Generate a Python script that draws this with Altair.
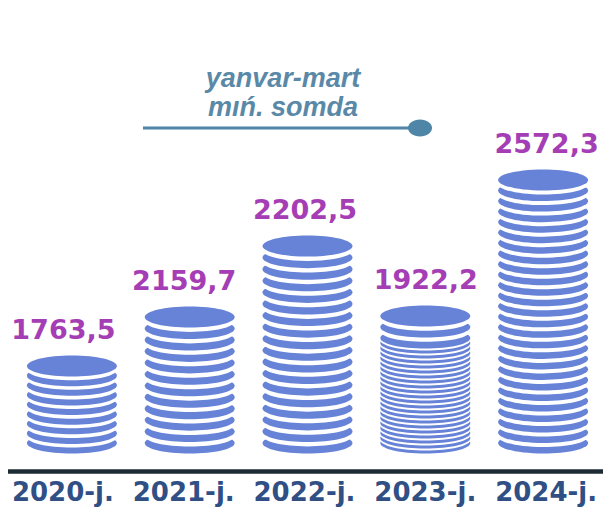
import altair as alt
import numpy as np
import pandas as pd

# ---- data ----
years = ["2020-j.", "2021-j.", "2022-j.", "2023-j.", "2024-j."]
values = [1763.5, 2159.7, 2202.5, 1922.2, 2572.3]
value_labels = ["1763,5", "2159,7", "2202,5", "1922,2", "2572,3"]
# visual height of each coin stack (top coin above bottom coin, drawing units)
stack_heights = [77, 126, 197, 127, 263]
# number of coins in each stack
coin_counts = [9, 12, 18, 24, 26]
# number of thick coins right under the top coin (2023 stack has two)
thick_coins = [0, 0, 0, 2, 0]
note_lines = ["yanvar-mart", "mıń. somda"]

BLUE = "#6783d7"
PURPLE = "#a53db5"
NAVY = "#2f4f85"
STEEL = "#4f85a6"

rows = []
seq = 0
for yr, h, n, k in zip(years, stack_heights, coin_counts, thick_coins):
    if k == 0:
        levels = list(np.linspace(0, h, n))
    else:
        lower = list(np.linspace(0, h - 11 * k - 5, n - 1 - k))
        upper = [h - 11 * j for j in range(k, -1, -1)]
        levels = lower + upper
    for i, lv in enumerate(levels):
        rows.append(dict(year=yr, level=lv, c=BLUE, seq=seq))
        seq += 1
        if i < len(levels) - 1:
            gap = levels[i + 1] - lv
            rows.append(dict(year=yr, level=lv + 0.62 * gap, c="white", seq=seq))
            seq += 1
coins = pd.DataFrame(rows)
labels = pd.DataFrame(dict(year=years, value=values, level=stack_heights, label=value_labels))
one = pd.DataFrame({"k": [0]})


def ellipse(r):
    k = 0.5523
    return (f"M-1,0C-1,{-r*k:.4f},{-k},{-r},0,{-r}C{k},{-r},1,{-r*k:.4f},1,0"
            f"C1,{r*k:.4f},{k},{r},0,{r}C{-k},{r},-1,{r*k:.4f},-1,0Z")


yscale = alt.Scale(domain=[-64, 435], nice=False, zero=False)

stacks = alt.Chart(coins).mark_point(
    shape=ellipse(0.235), filled=True, opacity=1, strokeWidth=0, size=8100
).encode(
    x=alt.X("year:N", sort=years, scale=alt.Scale(type="point", range=[5, 594], padding=0.5), axis=None),
    y=alt.Y("level:Q", scale=yscale, axis=None),
    color=alt.Color("c:N", scale=None),
    order=alt.Order("seq:Q"),
)

vlabels = alt.Chart(labels).mark_text(
    font="DejaVu Sans", fontWeight="bold", fontSize=27, color=PURPLE,
    baseline="alphabetic", align="center", dy=-27, dx=1,
).encode(
    x=alt.X("year:N", sort=years,
            scale=alt.Scale(type="point", range=[-6, 598], padding=0.5),
            axis=alt.Axis(title=None, orient="bottom", labelFont="DejaVu Sans",
                          labelFontWeight="bold", labelFontSize=26, labelColor=NAVY,
                          labelPadding=8, ticks=False, tickSize=0, grid=False,
                          labelAngle=0, domainColor="#1d2b35", domainWidth=4.5,
                          domainCap="round", offset=-36)),
    y=alt.Y("level:Q", scale=yscale, axis=None),
    text="label:N",
)

line = alt.Chart(one).mark_rule(color=STEEL, strokeWidth=3).encode(
    x=alt.value(135), x2=alt.value(412), y=alt.value(120)
)
dot = alt.Chart(one).mark_point(
    shape=ellipse(0.71), filled=True, opacity=1, color=STEEL, strokeWidth=0, size=576
).encode(x=alt.value(412), y=alt.value(120))
note = alt.Chart(one).mark_text(
    text=note_lines, font="Liberation Sans", fontStyle="italic", fontWeight="bold",
    fontSize=27, color="#5a89a8", lineHeight=29, baseline="alphabetic", align="center",
).encode(x=alt.value(275), y=alt.value(79))

chart = alt.layer(stacks, vlabels, line, dot, note).resolve_scale(x="independent").properties(
    width=595, height=499, padding=0,
    autosize=alt.AutoSizeParams(type="none"), background="white",
).configure_view(stroke=None)

chart.save("out.html", embed_options={"renderer": "svg", "actions": False})
